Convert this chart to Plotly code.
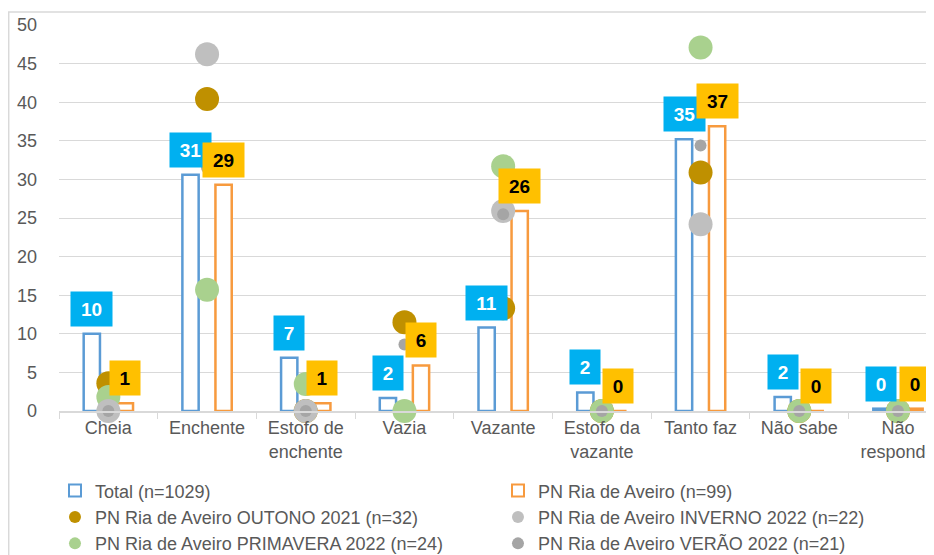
import plotly.graph_objects as go

# ---------------- data ----------------
categories = ["Cheia", "Enchente", "Estofo de enchente", "Vazia", "Vazante",
              "Estofo da vazante", "Tanto faz", "Não sabe", "Não responde"]
tick_labels = ["Cheia", "Enchente", "Estofo de<br>enchente", "Vazia", "Vazante",
               "Estofo da<br>vazante", "Tanto faz", "Não sabe", "Não<br>responde"]

total = [10.0, 30.6, 6.9, 1.7, 10.8, 2.4, 35.2, 1.8, 0.3]
pn_ria = [1.0, 29.3, 1.0, 5.9, 25.9, 0.0, 36.9, 0.0, 0.3]
outono = [3.6, 40.4, 0.0, 11.5, 13.3, 0.0, 30.9, 0.0, 0.0]
inverno = [0.0, 46.2, 0.0, None, 25.9, None, 24.2, None, None]
primavera = [1.8, 15.7, 3.5, 0.0, 31.7, 0.0, 47.1, 0.0, 0.0]
verao = [0.0, 31.5, 0.0, 8.6, 25.5, 0.0, 34.4, 0.0, 0.0]

series_names = ["Total (n=1029)", "PN Ria de Aveiro (n=99)",
                "PN Ria de Aveiro OUTONO 2021 (n=32)", "PN Ria de Aveiro INVERNO 2022 (n=22)",
                "PN Ria de Aveiro PRIMAVERA 2022 (n=24)", "PN Ria de Aveiro VERÃO 2022 (n=21)"]

# ---------------- style ----------------
FONT = "Liberation Sans Narrow, Liberation Sans, Arial, sans-serif"
GRID = "#D9D9D9"
TXT = "#595959"
BLUE = "#5B9BD5"
ORANGE = "#F79A3E"
BAR_W = 0.165
SHIFT = 0.1675

fig = go.Figure()
fig.add_trace(go.Bar(x=categories, y=total, name=series_names[0], width=BAR_W,
                     offset=-SHIFT - BAR_W / 2, legendrank=1,
                     marker=dict(color="white", line=dict(color=BLUE, width=2.5))))
fig.add_trace(go.Bar(x=categories, y=pn_ria, name=series_names[1], width=BAR_W,
                     offset=SHIFT - BAR_W / 2, legendrank=2,
                     marker=dict(color="white", line=dict(color=ORANGE, width=2.5))))

markers = [
    (outono, series_names[2], "#BF9000", 24, 3),
    (primavera, series_names[4], "#A9D18E", 24, 5),
    (inverno, series_names[3], "#BFBFBF", 24, 4),
    (verao, series_names[5], "#A5A5A5", 12, 6),
]
for vals, name, col, size, rank in markers:
    fig.add_trace(go.Scatter(x=categories, y=vals, name=name, mode="markers",
                             legendrank=rank, cliponaxis=False,
                             marker=dict(color=col, size=size, line=dict(width=0))))

# data labels
for i, v in enumerate(total):
    txt = f"{v:.0f}"
    fig.add_annotation(x=i - SHIFT, y=v, xref="x", yref="y", text=f"<b>{txt}</b>",
                       showarrow=False, yanchor="bottom", yshift=7,
                       bgcolor="#00B0F0", borderpad=5, height=24,
                       width=20 if len(txt) == 1 else 31,
                       font=dict(family=FONT, size=19, color="white"))
for i, v in enumerate(pn_ria):
    txt = f"{v:.0f}"
    fig.add_annotation(x=i + SHIFT, y=v, xref="x", yref="y", text=f"<b>{txt}</b>",
                       showarrow=False, yanchor="bottom", yshift=7,
                       bgcolor="#FFC000", borderpad=5, height=24,
                       width=20 if len(txt) == 1 else 31,
                       font=dict(family=FONT, size=19, color="black"))

# outer chart border
fig.add_shape(type="rect", xref="paper", yref="paper", x0=-0.0575, x1=1.05,
              y0=-0.6, y1=1.0337, line=dict(color=GRID, width=1.5), layer="below")

fig.update_layout(
    width=926, height=547,
    margin=dict(l=51, r=0, t=17, b=144, autoexpand=False),
    paper_bgcolor="white", plot_bgcolor="white",
    font=dict(family=FONT, size=18, color=TXT),
    showlegend=True,
    legend=dict(orientation="h", x=-0.0046, xanchor="left", y=-0.159, yanchor="top",
                entrywidth=398, itemsizing="constant", traceorder="normal",
                font=dict(family=FONT, size=18, color=TXT), bgcolor="rgba(0,0,0,0)"),
    xaxis=dict(type="category", categoryorder="array", categoryarray=categories,
               tickvals=categories, ticktext=tick_labels, range=[-0.5, 8.365],
               showline=True, linecolor=GRID, linewidth=1.5, showgrid=False,
               ticks="outside", tickson="boundaries", ticklen=6, tickcolor=GRID,
               tickfont=dict(family=FONT, size=18, color=TXT)),
    yaxis=dict(range=[0, 50], dtick=5, tick0=0, showgrid=True, gridcolor=GRID,
               gridwidth=1, zeroline=False, showline=False, ticks="",
               ticklabelstandoff=21,
               tickfont=dict(family=FONT, size=18, color=TXT)),
)

fig.write_html("out.html")
